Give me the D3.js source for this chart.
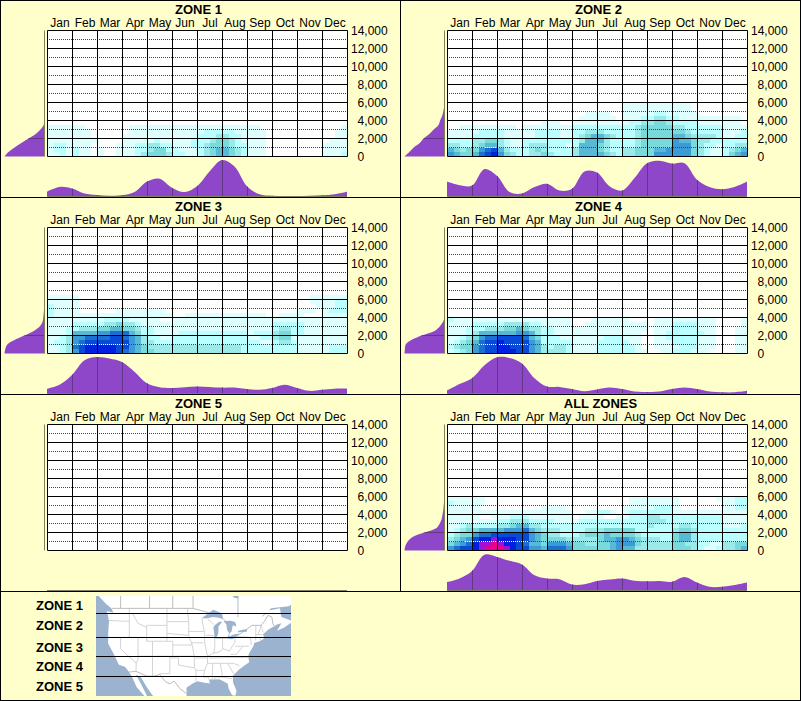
<!DOCTYPE html>
<html>
<head>
<meta charset="utf-8">
<script src="https://cdn.jsdelivr.net/npm/d3@7"></script>
<style>
html, body { margin: 0; padding: 0; background: #ffffcc; }
svg { display: block; font-family: "Liberation Sans", Arial, sans-serif; }
</style>
</head>
<body>
<svg id="chart" width="801" height="701"></svg>
<script>
const months = ["Jan","Feb","Mar","Apr","May","Jun","Jul","Aug","Sep","Oct","Nov","Dec"];
const altitudeTicks = [0,2000,4000,6000,8000,10000,12000,14000];
const levelColors = ["#ffffff","#dfffff","#b9ffff","#9be9e9","#78dada","#57b9d5","#3a9bd6","#1a6fd0","#0a4ad8","#0020e0","#a010d8","#e8008c"];

// heat levels: one string per 500 ft band from the ground up, 4 cells a month, a/b = 10/11
const zone1Heat = [
  "1121 2110 1001 1123 4443 2211 2345 5432 1110 0000 0000 1112",
  "1221 2110 1001 1122 3442 2111 2345 5432 1110 0000 0000 1111",
  "1221 1110 0001 1122 3322 1112 2344 4322 1110 0000 0000 1111",
  "1111 1111 0000 1111 1211 1112 2234 4321 1110 0000 0000 0111",
  "1111 1110 0000 1111 1111 1111 2223 3221 1110 0000 0000 0011",
  "1111 1110 0000 0111 1111 1111 1222 2211 1110 0000 0000 0011",
  "1111 1100 0000 0111 1111 1111 1111 1111 1100 0000 0000 0001"
];
const zone2Heat = [
  "6544 5789 6432 2334 3222 3555 5432 3344 4666 6664 3211 2456",
  "5434 4678 5322 2343 2222 3555 4322 3344 4556 6664 3211 2345",
  "3322 3455 3211 2333 2221 2555 4322 2234 4444 6664 3221 2233",
  "2222 3344 3211 2222 2222 2355 5322 2234 4444 6554 3322 2222",
  "1111 2222 2111 1122 2211 2345 5432 2234 4444 5543 3332 1122",
  "1111 1222 2111 1122 2211 2233 3222 2234 4444 4432 2222 1112",
  "0011 1111 1110 1111 1111 2222 2222 2234 4444 3322 2222 1111",
  "0000 0000 0000 0001 1100 1111 1111 1223 3443 2222 1111 1110",
  "0000 0000 0000 0000 0000 0111 1110 1112 2332 2111 1111 1110",
  "0000 0000 0000 0000 0000 0011 1100 1111 1221 1111 0000 0000",
  "0000 0000 0000 0000 0000 0000 0000 1111 1111 1110 0000 0000",
  "0000 0000 0000 0000 0000 0000 0000 1111 1111 1110 0000 0000"
];
const zone3Heat = [
  "1123 6899 9998 7654 4333 3333 3333 3332 2222 2222 1111 1222",
  "1123 7899 9998 8654 3333 3333 3333 3332 2222 2222 1111 1222",
  "1223 6788 8888 8653 3222 2222 2222 2222 2211 2332 1111 1111",
  "1123 6677 7788 7653 2211 2222 2222 2222 1122 3441 1111 1111",
  "1112 5555 6677 7542 2111 1222 2222 2222 1222 3442 2111 1111",
  "1112 2333 4455 4432 2111 1111 1111 1111 1111 2332 2111 1111",
  "1111 2222 2334 3321 1111 1111 1111 1111 1111 2222 2111 1111",
  "1111 1111 1222 2111 1100 1111 1111 1111 1111 1111 1111 1111",
  "2111 1111 1111 1111 1111 0011 1111 1111 1110 0111 1000 1111",
  "2111 1000 0001 1111 1110 0000 0000 0000 0000 0000 1110 1222",
  "2111 1000 0000 0000 0000 0000 0000 0000 0000 0000 0001 1122",
  "1111 1000 0000 0000 0000 0000 0000 0000 0000 0000 0011 1122",
  "1111 1000 0000 0000 0000 0000 0000 0000 0000 0000 0011 1111"
];
const zone4Heat = [
  "1234 6788 9998 8653 3332 1111 2222 2211 0011 2221 1100 0011",
  "2344 6788 9988 8653 2332 1111 2222 2210 0111 1222 1110 0011",
  "1234 5788 9888 8652 2222 1111 2222 2110 0111 2222 1110 0011",
  "1123 4677 8888 7542 2211 1111 1222 1110 0112 2222 1110 0011",
  "1112 3555 5556 6532 2111 1111 1111 1110 0112 2222 2110 0011",
  "1112 2233 3445 4332 2111 1111 1111 1111 0111 2222 1110 0011",
  "1111 2222 2333 3221 1111 0011 1111 1111 0111 2222 1110 0001",
  "2111 1111 1111 1111 1111 0001 1111 1000 0111 1111 1110 0001"
];
const zone5Heat = [];
const allZonesHeat = [
  "6788 9abb ba98 8665 7776 4444 4456 5533 3333 4443 2112 3345",
  "4567 9aab a998 7554 6665 4433 4456 6643 3333 4433 2211 3344",
  "3456 899a 9998 8654 4443 3333 4556 6543 3322 4553 2222 2222",
  "2344 6778 8888 8654 3322 2344 4544 4432 2222 4553 2222 2222",
  "1234 4555 5666 7543 3322 2233 3444 4422 2222 3443 2222 2222",
  "1123 2222 3345 5332 2222 2222 2222 2222 3222 2332 2222 1112",
  "1111 1111 2233 3222 2111 1222 2222 2222 3332 2222 2222 1111",
  "1111 1001 1122 2111 1111 0111 1001 1222 3322 2222 2222 1111",
  "1111 1111 1111 1111 1111 0011 2210 1222 2222 1111 1111 1111",
  "1111 1000 0000 0001 1110 0000 0000 1111 1222 1000 0000 1122",
  "2111 1100 0000 0000 0000 0000 0000 0111 1111 1000 0000 1122",
  "1111 1100 0000 0000 0000 0000 0000 0111 1111 1000 0001 1122"
];

// monthly profile, percent of the peak, every half month from Jan 1 to Dec 31
const zone1Months = [12,25,21,7,3,1,2,11,40,48,23,11,27,68,100,82,27,5,1,0,0,1,2,5,12];
const zone2Months = [40,30,29,75,56,11,7,25,34,15,20,68,65,27,15,50,91,98,90,91,45,25,19,25,40];
const zone3Months = [12,23,50,91,100,96,86,59,27,16,14,16,18,17,15,15,11,9,14,23,14,6,9,12,12];
const zone4Months = [7,25,41,77,99,97,82,41,18,17,11,5,10,15,11,4,3,4,11,15,11,4,2,2,6];
const zone5Months = [];
const allZonesMonths = [22,32,53,98,92,81,71,41,32,30,15,16,25,29,32,26,24,25,23,36,21,9,9,14,21];

// altitude profile, percent of the peak, every 500 ft from the ground
const zone1Alt = [100,90,75,58,40,22,10,2,0];
const zone2Alt = [100,88,77,62,52,38,27,15,11,6,3,1,0];
const zone3Alt = [100,98,93,75,50,27,12,5,3,2,1,1,0];
const zone4Alt = [100,99,97,83,57,25,12,4,0];
const zone5Alt = [];
const allZonesAlt = [100,98,92,80,50,20,12,7,5,3,2,1,0];

const zoneNames = ["ZONE 1","ZONE 2","ZONE 3","ZONE 4","ZONE 5","ALL ZONES"];
const heats = [zone1Heat,zone2Heat,zone3Heat,zone4Heat,zone5Heat,allZonesHeat];
const monthProfiles = [zone1Months,zone2Months,zone3Months,zone4Months,zone5Months,allZonesMonths];
const altProfiles = [zone1Alt,zone2Alt,zone3Alt,zone4Alt,zone5Alt,allZonesAlt];

// map outlines, lon/lat
const landOutline = [[-135,60],[-130,54.5],[-128,52],[-125,50],[-123.2,49],[-122.5,48],[-124.7,48.4],[-124,46],[-124.3,43],[-124.3,40.4],[-122.5,37.8],[-120.6,34.6],[-118.5,34],[-117.1,32.5],[-116,31],[-114.5,28],[-112,25.5],[-110,23],[-111,25.5],[-113,29],[-114.7,31.7],[-113,31],[-111,28],[-109,25.5],[-106,23],[-105,20],[-96,16],[-94,18],[-95.5,19],[-97.5,22],[-97.2,26],[-97.3,27.8],[-95,29.2],[-93.5,29.8],[-91,29.3],[-89.2,29.1],[-89.5,30.3],[-86,30.4],[-84.5,29.8],[-83,29],[-82.7,27.5],[-81.5,25.5],[-80.4,25.3],[-80,26.8],[-81.2,29.5],[-81.2,31.5],[-79,33.3],[-77,34.5],[-75.6,35.3],[-76,37],[-75.5,38],[-74.2,39.7],[-73.8,40.6],[-72,41],[-70.5,41.7],[-70.8,42.8],[-69,44],[-67,44.8],[-66,45.2],[-64.5,45.5],[-66,43.7],[-63.5,44.5],[-60.5,46],[-64.5,47],[-65,49],[-69,48.5],[-71,47],[-71,47.3],[-68,49],[-62,49.5],[-55,52],[-60,60],[-70,62],[-95,70],[-135,70]];
const lakes = [
  [[-92,46.7],[-90,46.7],[-88,47],[-85,46.7],[-84.6,46.5],[-85,47.8],[-88,48.7],[-89.5,48]],
  [[-87.6,41.7],[-87,41.7],[-86.3,43],[-86.2,44.7],[-85,45.8],[-84.8,45.9],[-86,45.9],[-87.5,45],[-88,44.5],[-87.7,43]],
  [[-84.5,46],[-83.5,45.3],[-83.3,44],[-82.5,43],[-81.7,43.5],[-81.3,45],[-80,44.7],[-80.5,45.8],[-82,46.1]],
  [[-83.4,41.7],[-81.5,41.5],[-79,42.7],[-79,42.9],[-81,42.7],[-83,42.1]],
  [[-79.7,43.3],[-76.5,43.4],[-76.3,44.1],[-77.5,44],[-79.3,43.7]],
  [[-82,52.8],[-79,52.8],[-79.5,51.2],[-81,51.4]]
];
const borders = [
  [[-123,49],[-95,49],[-89.5,48],[-84.5,46.5],[-82.5,45.3],[-82.4,43],[-83,42],[-79,42.8],[-76.5,44],[-74.7,45],[-71.5,45],[-70.3,46],[-69.2,47.4],[-67.8,47],[-67.5,45.5],[-67,44.8]],
  [[-117.1,32.5],[-114.7,32.7],[-111,31.3],[-108.2,31.3],[-106.5,31.8],[-104.5,29.6],[-103,29],[-101.5,29.8],[-99.5,27.5],[-97.2,26]],
  [[-120,49],[-120,60]],[[-110,49],[-110,60]],[[-102,49],[-102,60]],[[-95,49],[-95,53],[-89,57]],[[-79.5,47],[-79.5,52]]
];
const stateLines = [
  [[-124,46.2],[-119,46],[-117,46]],[[-117,49],[-117,42]],[[-124.2,42],[-111,42]],[[-120,42],[-120,39],[-114.6,35],[-114.7,32.7]],[[-114,42],[-114,36.2],[-114.6,35]],
  [[-111,42],[-111,41],[-109,41],[-109,31.3]],[[-114,37],[-94.6,37]],[[-111,41],[-111,45],[-104,45]],[[-116,48],[-114,45.5],[-111,44.5]],[[-104,45.9],[-96.5,45.9]],[[-104,49],[-104,41],[-109,41]],
  [[-104,43],[-96.5,42.5]],[[-102,40],[-95.3,40]],[[-104,41],[-102,41],[-102,37]],[[-103,37],[-103,32],[-106.6,32]],[[-103,36.5],[-100,36.5],[-100,34.5],[-94.5,33.7],[-94,33],[-94,29.8]],
  [[-96.5,43.5],[-91.2,43.5]],[[-97,49],[-96.5,45.9],[-96.5,42.5],[-95.3,40],[-94.6,37],[-94.5,33.7]],[[-92,46.7],[-91,43],[-91,40.5],[-90,37],[-90,35],[-91,33],[-91.5,31],[-89.7,31],[-89.5,30.3]],
  [[-95.7,40.6],[-91.5,40.6]],[[-94.5,36.5],[-90,36.5]],[[-94,33],[-91,33]],[[-87.5,41.7],[-87.5,39],[-88,37.8]],[[-84.8,41.7],[-84.8,39.1]],[[-90,37],[-88,37.8],[-85.5,38.3],[-84.8,39.1],[-82.5,38.4],[-80.6,40.6],[-80.5,42]],
  [[-87,41.7],[-83.4,41.7]],[[-90.6,42.5],[-87.8,42.5]],[[-90,46.6],[-87.6,45.1]],[[-89.5,36.5],[-81.7,36.6],[-75.9,36.6]],[[-90,35],[-84.3,35],[-81,35],[-79,34.3]],[[-88.2,35],[-88.4,30.3]],
  [[-85.6,35],[-85,32],[-85,31],[-87.6,31],[-87.5,30.3]],[[-85,31],[-82,30.6],[-81.5,30.7]],[[-83.1,35],[-81,32]],[[-80.5,39.7],[-75.7,39.7]],[[-80,42.2],[-75.3,42],[-75,41],[-75,40]],
  [[-73.3,45],[-73.4,41.2]],[[-71.5,45],[-70.8,43.2]],[[-71.5,45],[-72.5,42.7]],[[-73.4,42.7],[-71,42.7]],[[-73.5,42],[-71.8,42],[-71.8,41.3]],[[-82,37.5],[-80,37.5],[-78,39.5]]
];
const mapLabels = ["ZONE 1","ZONE 2","ZONE 3","ZONE 4","ZONE 5"];

const svg = d3.select("#chart");
const plotW = 300, plotH = 126;
const purple = "#8f47c9", purpleLine = "#5f3a80", olive = "#7f7f60";
const x = d3.scaleLinear().domain([0,12]).range([0,plotW]);
const y = d3.scaleLinear().domain([0,14000]).range([plotH,0]);
const sideW = d3.scaleLinear().domain([0,100]).range([0,40]);
const bottomH = d3.scaleLinear().domain([0,100]).range([0,36]);
const bandFt = 500;

function parseHeat(rows){
    return rows.map(r => r.replace(/ /g,"").split("").map(c => parseInt(c,16)));
}

function drawPanel(i){
    const col = i % 2, row = Math.floor(i / 2);
    const g = svg.append("g").attr("transform","translate(" + (col*400) + "," + (row*197) + ")");
    const plot = g.append("g").attr("transform","translate(47.5,30.5)");
    const heat = parseHeat(heats[i]);

    plot.append("rect").attr("width",plotW).attr("height",plotH).attr("fill","#fff");

    heat.forEach((cells,r) => {
        plot.selectAll(null).data(cells).enter().append("rect")
            .attr("x",(d,c) => x(c/4))
            .attr("y",y((r+1)*bandFt))
            .attr("width",x(0.25))
            .attr("height",y(0)-y(bandFt))
            .attr("shape-rendering","crispEdges")
            .attr("fill",d => levelColors[d]);
    });

    // dotted lines at the odd thousands, started half a pixel back so the dots stay sharp
    plot.selectAll(null).data(d3.range(1000,14000,2000)).enter().append("line")
        .attr("x1",-0.5).attr("x2",plotW)
        .attr("y1",d => y(d)).attr("y2",d => y(d))
        .attr("stroke","#444").attr("stroke-dasharray","1,1");

    // the dots turn white over the dark cells
    if (heat.length){
        heat[1].forEach((d,c) => {
            if (d < 7) return;
            plot.append("line")
                .attr("x1",Math.round(x(c/4)/2)*2-0.5).attr("x2",x((c+1)/4))
                .attr("y1",y(1000)).attr("y2",y(1000))
                .attr("stroke","#fff").attr("stroke-dasharray","1,1");
        });
    }

    plot.selectAll(null).data(altitudeTicks).enter().append("line")
        .attr("x1",0).attr("x2",plotW)
        .attr("y1",d => y(d)).attr("y2",d => y(d))
        .attr("stroke","#000");
    plot.selectAll(null).data(d3.range(13)).enter().append("line")
        .attr("x1",d => x(d)).attr("x2",d => x(d))
        .attr("y1",0).attr("y2",plotH)
        .attr("stroke","#000");

    plot.selectAll(null).data(months).enter().append("text")
        .attr("x",(d,m) => x(m+0.5)).attr("y",-3.5)
        .attr("text-anchor","middle").attr("font-size",12).text(d => d);

    const axis = d3.axisRight(y).tickValues(altitudeTicks).tickSize(0).tickFormat(d3.format(","));
    const ax = plot.append("g").attr("transform","translate(" + plotW + ",0)").call(axis);
    ax.select(".domain").remove();
    ax.selectAll("text")
        .attr("x",d => d >= 10000 ? 3.5 : 10)
        .attr("font-size",12).attr("font-family","inherit").attr("fill","#000");

    g.append("text").attr("x",i === 5 ? 200.5 : 198.5).attr("y",13.5)
        .attr("text-anchor","middle").attr("font-size",13).attr("font-weight","bold")
        .text(zoneNames[i]);

    // altitude profile on the left
    const side = g.append("g").attr("transform","translate(44.5,30.5)");
    const clipA = "alt" + i;
    const altArea = d3.area()
        .y((d,k) => y(k*bandFt))
        .x0(0).x1(d => -sideW(d))
        .curve(d3.curveCatmullRom);
    side.append("clipPath").attr("id",clipA).append("path").attr("d",altArea(altProfiles[i]));
    side.append("path").attr("d",altArea(altProfiles[i])).attr("fill",purple);
    side.append("line").attr("clip-path","url(#" + clipA + ")")
        .attr("x1",-40).attr("x2",0).attr("y1",y(2000)).attr("y2",y(2000)).attr("stroke",purpleLine);
    side.append("line").attr("y1",0).attr("y2",plotH).attr("stroke",olive).attr("stroke-width",1);

    // monthly profile along the bottom
    const bottom = g.append("g").attr("transform","translate(47,196)");
    const clipM = "mon" + i;
    const monArea = d3.area()
        .x((d,k) => x(k/2))
        .y0(0).y1(d => -bottomH(d))
        .curve(d3.curveCatmullRom);
    bottom.append("clipPath").attr("id",clipM).append("path").attr("d",monArea(monthProfiles[i]));
    bottom.append("path").attr("d",monArea(monthProfiles[i])).attr("fill",purple);
    bottom.append("g").attr("clip-path","url(#" + clipM + ")")
        .selectAll("line").data(d3.range(1,12)).enter().append("line")
        .attr("x1",d => x(d)+0.5).attr("x2",d => x(d)+0.5).attr("y1",-40).attr("y2",0)
        .attr("stroke",purpleLine);
    bottom.append("line").attr("x1",0).attr("x2",plotW).attr("y1",0.5).attr("y2",0.5).attr("stroke",olive);
}

d3.range(6).forEach(drawPanel);

// locator map
const mapBox = {x:96,y:596,w:195,h:100};
const map = svg.append("g");
const mercator = d3.geoMercator().scale(166).center([-124.7,48.4]).translate([107,611]);
const mapLine = d3.line().x(d => mercator(d)[0]).y(d => mercator(d)[1]);
map.append("clipPath").attr("id","mapClip").append("rect")
    .attr("x",mapBox.x).attr("y",mapBox.y).attr("width",mapBox.w).attr("height",mapBox.h);
const mapBody = map.append("g").attr("clip-path","url(#mapClip)");
mapBody.append("rect").attr("x",mapBox.x).attr("y",mapBox.y).attr("width",mapBox.w).attr("height",mapBox.h).attr("fill","#9bb3cf");
mapBody.append("path").attr("d",mapLine(landOutline) + "Z").attr("fill","#fff");
mapBody.selectAll(null).data(stateLines).enter().append("path").attr("d",mapLine).attr("fill","none").attr("stroke","#d4d4d4").attr("stroke-width",1);
mapBody.selectAll(null).data(borders).enter().append("path").attr("d",mapLine).attr("fill","none").attr("stroke","#bcbcbc").attr("stroke-width",1);
mapBody.selectAll(null).data(lakes).enter().append("path").attr("d",d => mapLine(d) + "Z").attr("fill","#9bb3cf");

const mapDividers = d3.scaleOrdinal().domain([0,1,2,3]).range([613.5,637.5,656.5,676.5]);
map.selectAll(null).data([0,1,2,3]).enter().append("line")
    .attr("x1",mapBox.x).attr("x2",mapBox.x+mapBox.w)
    .attr("y1",d => mapDividers(d)).attr("y2",d => mapDividers(d))
    .attr("stroke","#000");
const labelY = d3.scaleOrdinal().domain(mapLabels).range([610,630,652,671,691]);
map.selectAll(null).data(mapLabels).enter().append("text")
    .attr("x",36).attr("y",d => labelY(d))
    .attr("font-size",13).attr("font-weight","bold").text(d => d);

// frame
const frame = svg.append("g").attr("stroke","#000").attr("fill","none");
frame.append("rect").attr("x",0.5).attr("y",0.5).attr("width",800).attr("height",700);
frame.append("line").attr("x1",400.5).attr("x2",400.5).attr("y1",0).attr("y2",591);
[197,394,591].forEach(v => {
    frame.append("line").attr("x1",0).attr("x2",801).attr("y1",v+0.5).attr("y2",v+0.5);
});
</script>
</body>
</html>
